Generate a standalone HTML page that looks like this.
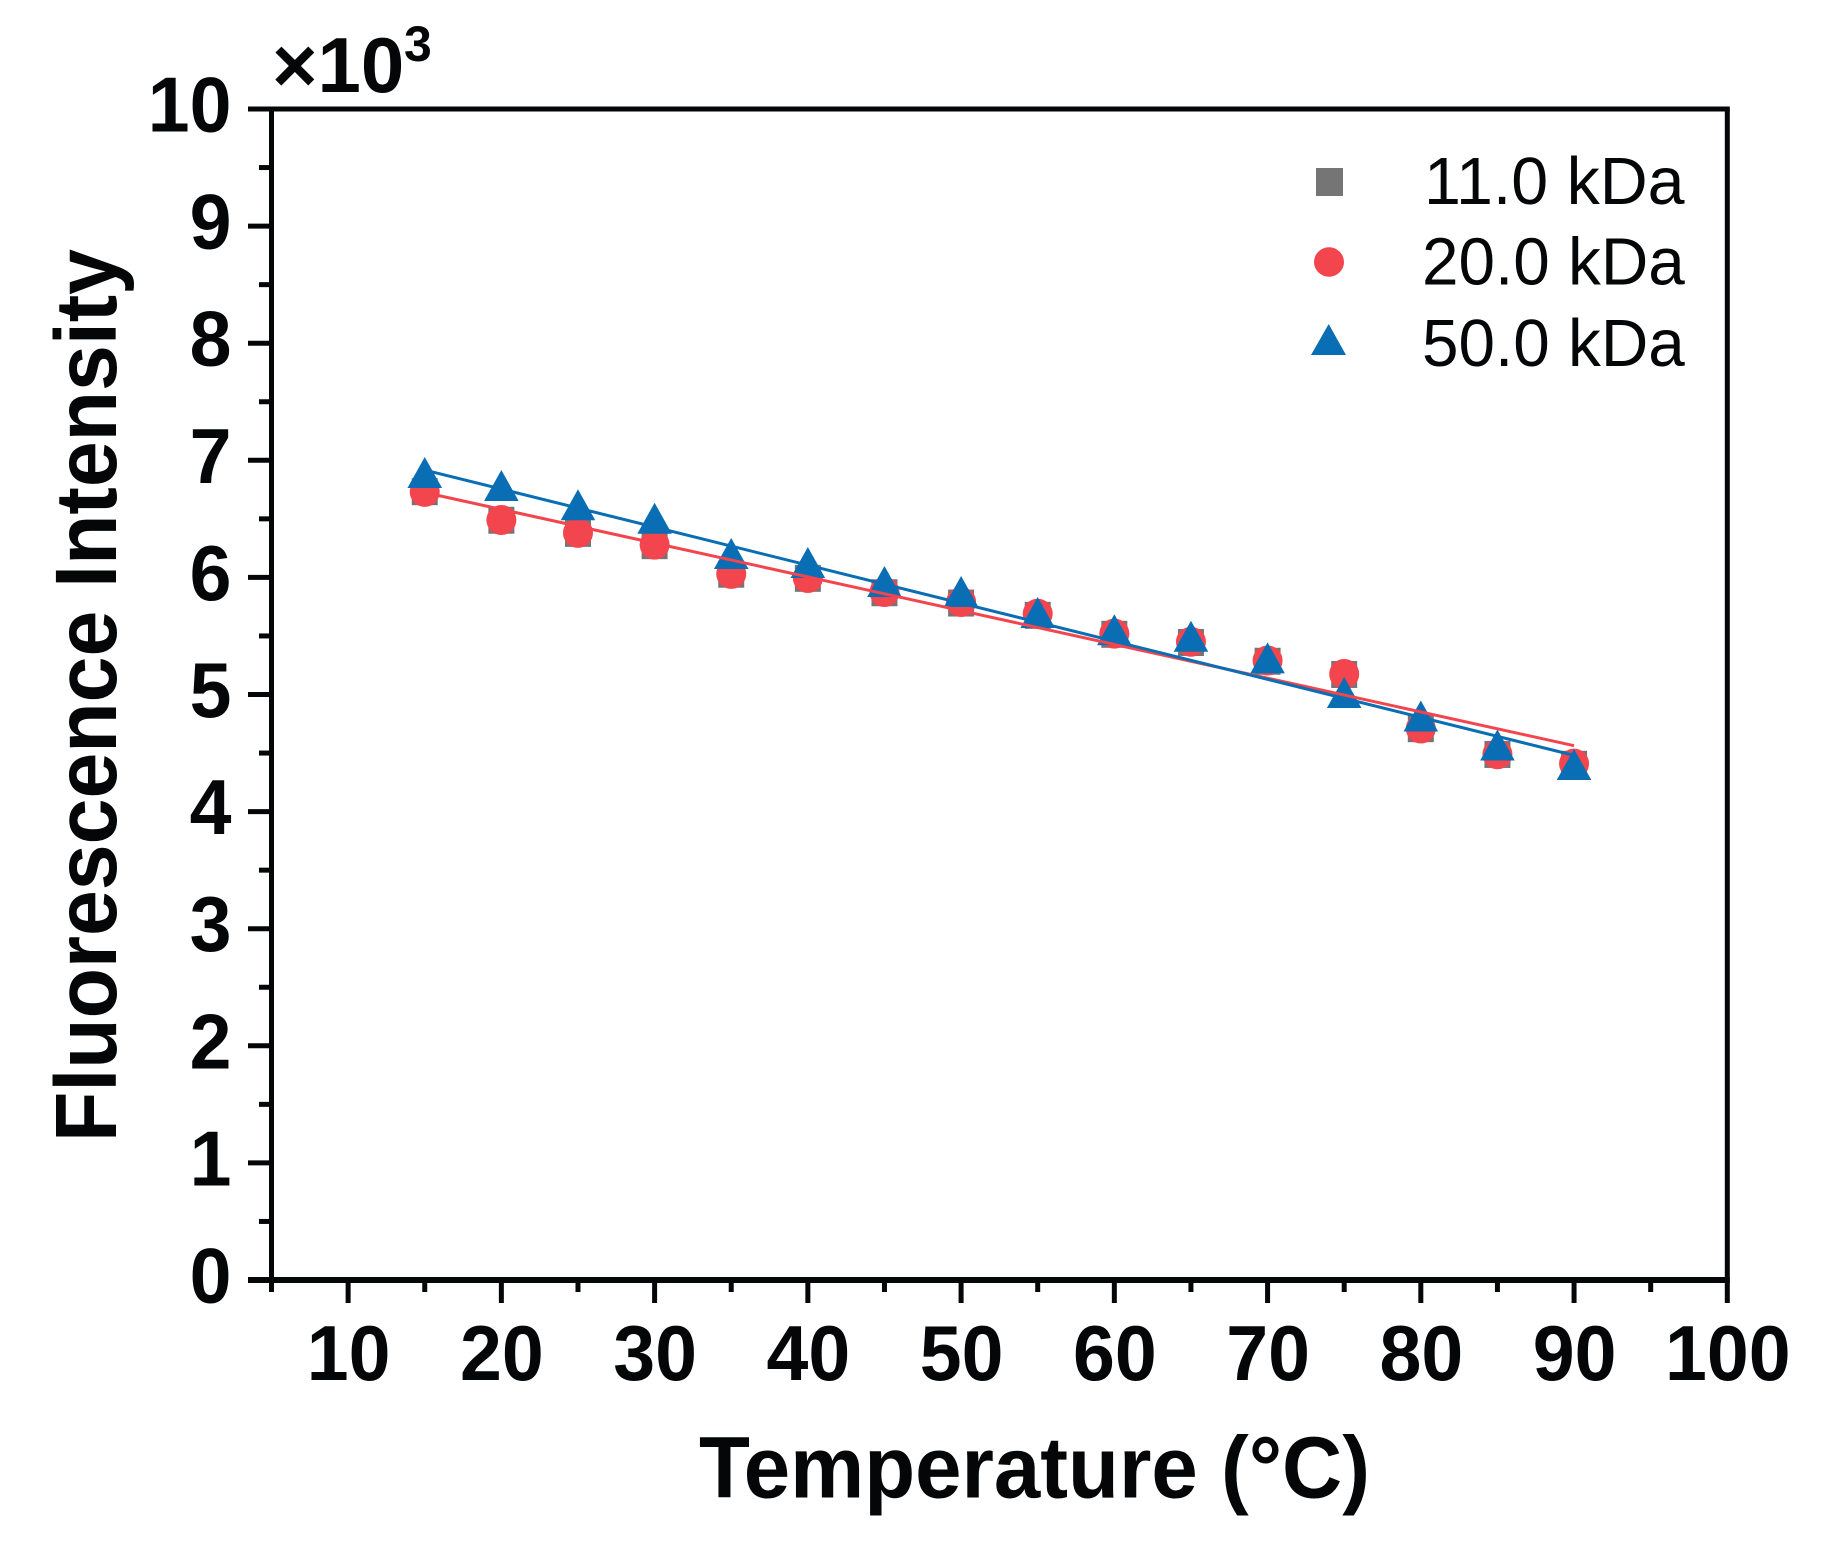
<!DOCTYPE html>
<html lang="en">
<head>
<meta charset="utf-8">
<title>Fluorescence Intensity vs Temperature</title>
<style>
html,body{margin:0;padding:0;background:#fff;width:1834px;height:1548px;overflow:hidden}
svg{display:block;font-family:"Liberation Sans",Arial,sans-serif}
</style>
</head>
<body>
<svg id="chart" xmlns="http://www.w3.org/2000/svg" width="1834" height="1548" viewBox="0 0 1834 1548">
  <rect x="0" y="0" width="1834" height="1548" fill="#ffffff"/>
  <g id="marks"></g>
  <g id="frame"></g>
  <g id="xticks"></g>
  <g id="yticks"></g>
  <text x="699" y="1497.5" font-size="87" font-weight="700" fill="#050608" textLength="671" lengthAdjust="spacingAndGlyphs">Temperature (°C)</text>
  <text transform="translate(116,1142) rotate(-90)" font-size="87" font-weight="700" fill="#050608" textLength="893" lengthAdjust="spacingAndGlyphs">Fluorescence Intensity</text>
  <text x="272" y="92" font-size="78" font-weight="700" fill="#050608">×10</text>
  <text x="404" y="61" font-size="50" font-weight="700" fill="#050608">3</text>
  <g>
    <g>
      <rect x="1316" y="168" width="27" height="28" fill="#757575"/>
      <text transform="translate(1424,204) scale(.99,1)" font-size="67" fill="#050608">11.0 kDa</text>
    </g>
    <g>
      <ellipse cx="1329" cy="262" rx="15" ry="14.7" fill="#f2454e"/>
      <text transform="translate(1422,284.5) scale(.98,1)" font-size="67" fill="#050608">20.0 kDa</text>
    </g>
    <g>
      <polygon points="1328.7,324 1346,355 1311,355" fill="#0a6eb4"/>
      <text transform="translate(1422,366) scale(.98,1)" font-size="67" fill="#050608">50.0 kDa</text>
    </g>
  </g>
</svg>
<script>
// Chart data
const temperatures = [15,20,25,30,35,40,45,50,55,60,65,70,75,80,85,90];
const series11kDa = [6.732,6.488,6.376,6.271,6.027,5.992,5.869,5.781,5.676,5.514,5.444,5.284,5.171,4.708,4.488,4.404];
const series20kDa = [6.73,6.49,6.38,6.28,6.03,5.995,5.875,5.79,5.69,5.52,5.45,5.29,5.175,4.71,4.49,4.41];
const series50kDa = [6.896,6.785,6.62,6.505,6.204,6.127,5.965,5.88,5.70,5.553,5.497,5.313,5.017,4.816,4.569,4.402];
const fitTemperatures = [15,90];
const fit20kDa = [6.725,4.563];
const fit50kDa = [6.917,4.48];
const xMajorTicks = [10,20,30,40,50,60,70,80,90,100];
const xMinorTicks = [5,15,25,35,45,55,65,75,85,95];
const yMajorTicks = [0,1,2,3,4,5,6,7,8,9,10];
const yMinorTicks = [0.5,1.5,2.5,3.5,4.5,5.5,6.5,7.5,8.5,9.5];

const NS = 'http://www.w3.org/2000/svg';
const plot = {left:271.5, right:1727.3, top:109, bottom:1280, xMin:5, xMax:100, yMin:0, yMax:10};
function xScale(v){ return plot.left + (v - plot.xMin) / (plot.xMax - plot.xMin) * (plot.right - plot.left); }
function yScale(v){ return plot.bottom - (v - plot.yMin) / (plot.yMax - plot.yMin) * (plot.bottom - plot.top); }
function make(tag, attrs, parent){
  const el = document.createElementNS(NS, tag);
  for (const k in attrs) el.setAttribute(k, attrs[k]);
  parent.appendChild(el);
  return el;
}
const INK = '#050608', GRAY = '#757575', RED = '#f2454e', BLUE = '#0a6eb4';
const marks = document.getElementById('marks');
const frame = document.getElementById('frame');
const xticks = document.getElementById('xticks');
const yticks = document.getElementById('yticks');

// Markers
temperatures.forEach(function(t, i){
  const el = make('rect', {x:xScale(t)-13, y:yScale(series11kDa[i])-13.5, width:26, height:27, fill:GRAY}, marks);
  
  
});
temperatures.forEach(function(t, i){
  const el = make('circle', {cx:xScale(t), cy:yScale(series20kDa[i]), r:15, fill:RED}, marks);
  
  
});
temperatures.forEach(function(t, i){
  const cx = xScale(t), cy = yScale(series50kDa[i]);
  const el = make('polygon', {points:cx+','+(cy-15.5)+' '+(cx+17.3)+','+(cy+15.5)+' '+(cx-17.3)+','+(cy+15.5), fill:BLUE}, marks);
  
  
});

// Fit lines
const redFit = make('line', {x1:xScale(fitTemperatures[0]), y1:yScale(fit20kDa[0]), x2:xScale(fitTemperatures[1]), y2:yScale(fit20kDa[1]), stroke:RED, 'stroke-width':3}, marks);


const blueFit = make('line', {x1:xScale(fitTemperatures[0]), y1:yScale(fit50kDa[0]), x2:xScale(fitTemperatures[1]), y2:yScale(fit50kDa[1]), stroke:BLUE, 'stroke-width':3}, marks);



// Frame
const topAxis = make('line', {x1:plot.left, y1:plot.top, x2:plot.right+2.5, y2:plot.top, stroke:INK, 'stroke-width':5}, frame);


const rightAxis = make('line', {x1:plot.right, y1:plot.top, x2:plot.right, y2:plot.bottom, stroke:INK, 'stroke-width':5}, frame);


const leftAxis = make('line', {x1:plot.left, y1:plot.top-2.5, x2:plot.left, y2:plot.bottom, stroke:INK, 'stroke-width':5}, frame);


const bottomAxis = make('line', {x1:plot.left, y1:plot.bottom, x2:plot.right+2.5, y2:plot.bottom, stroke:INK, 'stroke-width':6}, frame);



// X ticks
xMajorTicks.forEach(function(v){
  const tick = make('line', {x1:xScale(v), y1:plot.bottom, x2:xScale(v), y2:1303, stroke:INK, 'stroke-width':5}, xticks);
  
  
  const label = make('text', {transform:'translate('+(xScale(v)+0.5)+',1380) scale(.965,1)', 'text-anchor':'middle', 'font-size':78, 'font-weight':700, fill:INK}, xticks);
  label.textContent = String(v);
  
  
});
xMinorTicks.forEach(function(v){
  const tick = make('line', {x1:xScale(v), y1:plot.bottom, x2:xScale(v), y2:1292, stroke:INK, 'stroke-width':5}, xticks);
  
  
});

// Y ticks
yMajorTicks.forEach(function(v){
  const tick = make('line', {x1:248, y1:yScale(v), x2:plot.left, y2:yScale(v), stroke:INK, 'stroke-width':v === 0 ? 6 : 5}, yticks);
  
  
  const label = make('text', {transform:'translate(231.5,'+(yScale(v)+22.5)+') scale(.965,1)', 'text-anchor':'end', 'font-size':78, 'font-weight':700, fill:INK}, yticks);
  label.textContent = String(v);
  
  
});
yMinorTicks.forEach(function(v){
  const tick = make('line', {x1:259, y1:yScale(v), x2:plot.left, y2:yScale(v), stroke:INK, 'stroke-width':5}, yticks);
  
  
});
</script>
</body>
</html>
